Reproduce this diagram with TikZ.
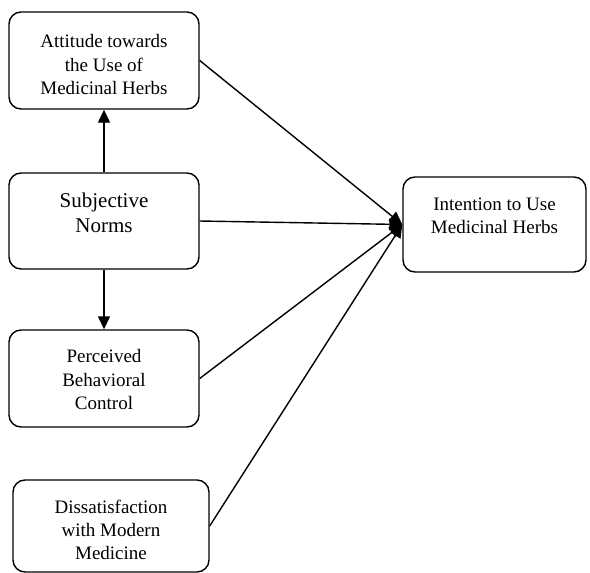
\documentclass[tikz,border=0pt]{standalone}
\usepackage{fontspec}
\setmainfont{Liberation Serif}
\usetikzlibrary{arrows.meta}

\tikzset{
  box/.style={draw, line width=1.4pt, rounded corners=12pt, inner sep=0pt},
  txt/.style={align=center, font=\fontsize{19}{23.3}\selectfont},
  bigtxt/.style={align=center, font=\fontsize{21}{25.5}\selectfont},
  path/.style={line width=1.4pt, -{Triangle[length=13pt,width=12pt]}}
}

\begin{document}
\begin{tikzpicture}[x=1pt, y=-1pt]

            \useasboundingbox (0,0) rectangle (590,573);

            % Nodes

            \node[box, minimum width=190pt, minimum height=97pt,
              label={[txt, yshift=-4pt]center:Attitude towards\\the Use of\\Medicinal Herbs}] (att) at (104,60.5) {};
            \node[box, minimum width=190pt, minimum height=96pt,
              label={[bigtxt, yshift=8pt]center:Subjective\\Norms}] (sub) at (104,221) {};
            \node[box, minimum width=190pt, minimum height=97pt,
              label={[txt, yshift=-1pt]center:Perceived\\Behavioral\\Control}] (pbc) at (104,378.5) {};
            \node[box, minimum width=196pt, minimum height=92pt,
              label={[txt, yshift=-4pt]center:Dissatisfaction\\with Modern\\Medicine}] (dis) at (111,526) {};
            \node[box, minimum width=183pt, minimum height=95pt,
              label={[txt, yshift=9pt]center:Intention to Use\\Medicinal Herbs}] (int) at (494.5,224.5) {};

            % Edges

            \draw[path] (sub) -- (att);
            \draw[path] (sub) -- (pbc);
            \draw[path] (att.east) -- (int.west);
            \draw[path] (sub.east) -- (int.west);
            \draw[path] (pbc.east) -- (int.west);
            \draw[path] (dis.east) -- (int.west);

\end{tikzpicture}
\end{document}
